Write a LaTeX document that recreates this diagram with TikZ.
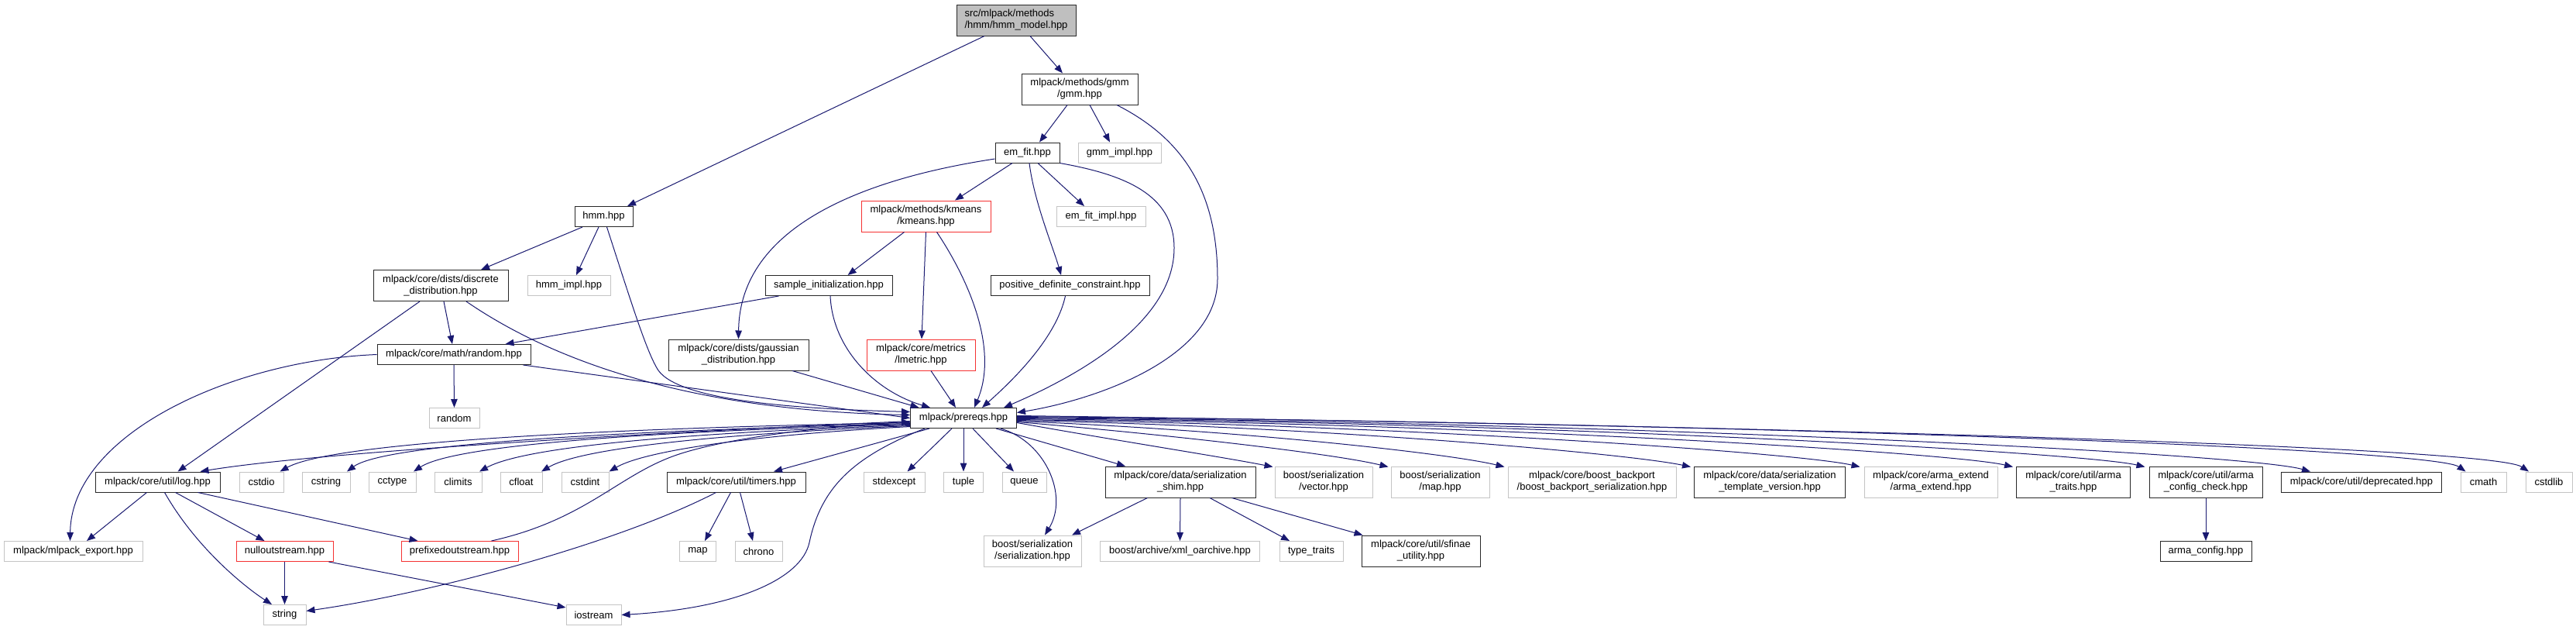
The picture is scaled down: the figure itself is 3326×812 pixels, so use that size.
\documentclass[tikz,border=0pt]{standalone}
\usepackage{fontspec}
\setmainfont{Liberation Sans}
\usetikzlibrary{calc,arrows.meta}
\definecolor{edgecol}{RGB}{25,25,112}
\definecolor{boxblack}{RGB}{40,40,40}
\definecolor{boxgray}{RGB}{196,196,196}
\definecolor{boxred}{RGB}{245,50,50}
\definecolor{rootfill}{RGB}{191,191,191}
\tikzset{
  box/.style={draw, line width=1pt, inner sep=0pt, align=center,
    font=\fontsize{13}{15}\selectfont, minimum height=26pt},
  blk/.style={box, draw=boxblack, fill=white},
  gry/.style={box, draw=boxgray, fill=white},
  redb/.style={box, draw=boxred, fill=white},
  rootb/.style={box, draw=boxblack, fill=rootfill, align=left},
  two/.style={minimum height=40pt},
  conn/.style={draw=edgecol, line width=1pt, -{Triangle[length=11pt,width=8.5pt]}},
}
\begin{document}
\begin{tikzpicture}[x=1pt,y=-1pt]
\fill[white] (0,0) rectangle (3326,812);
\useasboundingbox (0,0) rectangle (3326,812);
% nodes
\node[rootb,two,minimum width=154pt] (root) at (1312,26) {src/mlpack/methods\\/hmm/hmm\_model.hpp};
\node[blk,two,minimum width=150pt] (gmm) at (1394,115) {mlpack/methods/gmm\\/gmm.hpp};
\node[blk,minimum width=83pt] (emfit) at (1326.5,197) {em\_fit.hpp};
\node[gry,minimum width=107pt] (gmmimpl) at (1445.5,197) {gmm\_impl.hpp};
\node[blk,minimum width=75pt] (hmm) at (779.5,279.5) {hmm.hpp};
\node[redb,two,minimum width=167pt] (kmeans) at (1195.5,279) {mlpack/methods/kmeans\\/kmeans.hpp};
\node[gry,minimum width=115pt] (emfitimpl) at (1421.5,279.5) {em\_fit\_impl.hpp};
\node[blk,two,minimum width=174pt] (discrete) at (569,368.5) {mlpack/core/dists/discrete\\\_distribution.hpp};
\node[gry,minimum width=107pt] (hmmimpl) at (734.5,368.5) {hmm\_impl.hpp};
\node[blk,minimum width=164pt] (sample) at (1070,368.5) {sample\_initialization.hpp};
\node[blk,minimum width=205pt] (posdef) at (1381.5,368.5) {positive\_definite\_constraint.hpp};
\node[blk,minimum width=198pt] (random) at (586,457.5) {mlpack/core/math/random.hpp};
\node[blk,two,minimum width=181pt] (gauss) at (953.5,458) {mlpack/core/dists/gaussian\\\_distribution.hpp};
\node[redb,two,minimum width=140pt] (lmetric) at (1189,458) {mlpack/core/metrics\\/lmetric.hpp};
\node[gry,minimum width=65pt] (randomstd) at (586.5,539.5) {random};
\node[blk,minimum width=137pt] (prereqs) at (1244,539.5) {mlpack/prereqs.hpp};
% row 622
\node[blk,minimum width=161pt] (log) at (203.5,622) {mlpack/core/util/log.hpp};
\node[gry,minimum width=57pt] (cstdio) at (337.5,622) {cstdio};
\node[gry,minimum width=62pt] (cstring) at (421,622) {cstring};
\node[gry,minimum width=61pt] (cctype) at (506.5,622) {cctype};
\node[gry,minimum width=61pt] (climits) at (591.5,622) {climits};
\node[gry,minimum width=54pt] (cfloat) at (673,622) {cfloat};
\node[gry,minimum width=61pt] (cstdint) at (755.5,622) {cstdint};
\node[blk,minimum width=179pt] (timers) at (950.5,622) {mlpack/core/util/timers.hpp};
\node[gry,minimum width=79pt] (stdexcept) at (1154.5,622) {stdexcept};
\node[gry,minimum width=51pt] (tuple) at (1244,622) {tuple};
\node[gry,minimum width=57pt] (queue) at (1322.5,622) {queue};
\node[blk,two,minimum width=194pt] (shim) at (1524,622) {mlpack/core/data/serialization\\\_shim.hpp};
\node[gry,two,minimum width=126pt] (bvector) at (1709,622) {boost/serialization\\/vector.hpp};
\node[gry,two,minimum width=127pt] (bmap) at (1859.5,622) {boost/serialization\\/map.hpp};
\node[gry,two,minimum width=217pt] (backport) at (2055.5,622) {mlpack/core/boost\_backport\\/boost\_backport\_serialization.hpp};
\node[blk,two,minimum width=195pt] (tmplver) at (2285,622) {mlpack/core/data/serialization\\\_template\_version.hpp};
\node[gry,two,minimum width=172pt] (armaext) at (2493,622) {mlpack/core/arma\_extend\\/arma\_extend.hpp};
\node[blk,two,minimum width=147pt] (armatraits) at (2677,622) {mlpack/core/util/arma\\\_traits.hpp};
\node[blk,two,minimum width=146pt] (armacc) at (2848,622) {mlpack/core/util/arma\\\_config\_check.hpp};
\node[blk,minimum width=207pt] (deprecated) at (3049,622) {mlpack/core/util/deprecated.hpp};
\node[gry,minimum width=59pt] (cmath) at (3206.5,622) {cmath};
\node[gry,minimum width=60pt] (cstdlib) at (3291,622) {cstdlib};
% row 711
\node[gry,minimum width=179pt] (export) at (94.5,711.5) {mlpack/mlpack\_export.hpp};
\node[redb,minimum width=125pt] (nullout) at (367.5,711.5) {nulloutstream.hpp};
\node[redb,minimum width=151pt] (prefixed) at (593.5,711.5) {prefixedoutstream.hpp};
\node[gry,minimum width=47pt] (map) at (901,711.5) {map};
\node[gry,minimum width=61pt] (chrono) at (979.5,711.5) {chrono};
\node[gry,two,minimum width=126pt] (bser) at (1333,711) {boost/serialization\\/serialization.hpp};
\node[gry,minimum width=206pt] (xml) at (1523.5,711.5) {boost/archive/xml\_oarchive.hpp};
\node[gry,minimum width=82pt] (typetraits) at (1693,711.5) {type\_traits};
\node[blk,two,minimum width=153pt] (sfinae) at (1834.5,711) {mlpack/core/util/sfinae\\\_utility.hpp};
\node[blk,minimum width=118pt] (armaconfig) at (2848,711.5) {arma\_config.hpp};
% row 793
\node[gry,minimum width=55pt] (string) at (367.5,793.5) {string};
\node[gry,minimum width=71pt] (iostream) at (766.5,793.5) {iostream};
% edges
\draw[conn] ($(root.south)+(18,0)$) -- ($(gmm.north)+(-22,0)$);
\draw[conn] ($(root.south)+(-41,0)$) -- ($(hmm.north)+(30.5,0)$);
\draw[conn] ($(gmm.south)+(-16,0)$) -- ($(emfit.north)+(15.5,0)$);
\draw[conn] ($(gmm.south)+(13,0)$) -- ($(gmmimpl.north)+(-12.5,0)$);
\draw[conn] ($(gmm.south)+(48,0)$) .. controls (1530,180) and (1572,250) .. (1572,360) .. controls (1572,460) and (1420,515) .. ($(prereqs.east)+(0,-7)$);
\draw[conn] ($(emfit.south)+(-19.5,0)$) -- ($(kmeans.north)+(37.5,0)$);
\draw[conn] ($(emfit.south)+(13.5,0)$) -- ($(emfitimpl.north)+(-21.5,0)$);
\draw[conn] ($(emfit.south)+(2.5,0)$) .. controls (1335,260) and (1360,320) .. ($(posdef.north)+(-11.5,0)$);
\draw[conn] (emfit.south east) .. controls (1450,225) and (1516,250) .. (1516,320) .. controls (1516,420) and (1380,490) .. ($(prereqs.north)+(52,0)$);
\draw[conn] ($(emfit.west)+(0,8)$) .. controls (1120,230) and (955,290) .. (gauss.north);
\draw[conn] ($(hmm.south)+(-27.5,0)$) -- ($(discrete.north)+(52,0)$);
\draw[conn] ($(hmm.south)+(-6.5,0)$) -- ($(hmmimpl.north)+(9.5,0)$);
\draw[conn] ($(hmm.south)+(4,0)$) .. controls (815,390) and (835,455) .. (850,478) .. controls (880,520) and (1050,528) .. ($(prereqs.west)+(0,-8)$);
\draw[conn] ($(discrete.south)+(-27,0)$) -- ($(log.north)+(26,0)$);
\draw[conn] ($(discrete.south)+(4,0)$) -- ($(random.north)+(-2,0)$);
\draw[conn] ($(discrete.south)+(33,0)$) .. controls (720,470) and (900,530) .. ($(prereqs.west)+(0,-4)$);
\draw[conn] ($(sample.south)+(-64.5,0)$) -- ($(random.north)+(66.5,0)$);
\draw[conn] ($(sample.south)+(2,0)$) .. controls (1075,450) and (1130,505) .. ($(prereqs.north)+(-43,0)$);
\draw[conn] ($(gauss.south)+(69.5,0)$) -- ($(prereqs.north)+(-57.5,0)$);
\draw[conn] ($(kmeans.south)+(-28,0)$) -- ($(sample.north)+(24.6,0)$);
\draw[conn] (kmeans.south) -- ($(lmetric.north)+(1,0)$);
\draw[conn] ($(kmeans.south)+(14,0)$) .. controls (1250,360) and (1290,450) .. ($(prereqs.north)+(14,0)$);
\draw[conn] ($(lmetric.south)+(13,0)$) -- ($(prereqs.north)+(-10,0)$);
\draw[conn] ($(posdef.south)+(-6,0)$) .. controls (1365,430) and (1320,480) .. ($(prereqs.north)+(24,0)$);
\draw[conn] (random.south) -- (randomstd.north);
\draw[conn] ($(random.south)+(89.5,0)$) -- (prereqs.west);
\draw[conn] (random.west) .. controls (300,465) and (92,560) .. ($(export.north)+(-4,0)$);
\draw[conn] ($(log.south)+(-14,0)$) -- ($(export.north)+(17.5,0)$);
\draw[conn] ($(log.south)+(23,0)$) -- ($(nullout.north)+(-26,0)$);
\draw[conn] ($(log.south)+(52,0)$) -- ($(prefixed.north)+(-54,0)$);
\draw[conn] ($(log.south)+(9,0)$) .. controls (255,710) and (320,760) .. ($(string.north)+(-16.5,0)$);
\draw[conn] (nullout.south) -- (string.north);
\draw[conn] ($(nullout.south)+(57,0)$) -- ($(iostream.north west)+(0,4)$);
\draw[conn] ($(prefixed.north)+(41,0)$) .. controls (760,670) and (800,610) .. (880,585) .. controls (960,560) and (1100,548) .. ($(prereqs.west)+(0,5)$);
\draw[conn] ($(timers.south)+(-7,0)$) -- ($(map.north)+(9,0)$);
\draw[conn] ($(timers.south)+(5,0)$) -- ($(chrono.north)+(-7.5,0)$);
\draw[conn] ($(timers.south)+(-26,0)$) .. controls (800,700) and (560,765) .. ($(string.east)+(0,-5)$);
\draw[conn] ($(prereqs.south)+(-50,0)$) .. controls (1100,590) and (1060,630) .. (1045,700) .. controls (1035,747) and (950,785) .. (iostream.east);
\draw[conn] ($(prereqs.south)+(48,0)$) .. controls (1350,570) and (1380,640) .. ($(bser.north)+(16,0)$);
\draw[conn] ($(prereqs.south)+(-15,0)$) -- ($(stdexcept.north)+(17,0)$);
\draw[conn] (prereqs.south) -- (tuple.north);
\draw[conn] ($(prereqs.south)+(12,0)$) -- ($(queue.north)+(-13.5,0)$);
\draw[conn] ($(prereqs.south)+(42,0)$) -- ($(shim.north)+(-71,0)$);
\draw[conn] ($(prereqs.south)+(-44,0)$) -- ($(timers.north)+(48.5,0)$);
% left fan
\draw[conn] ($(prereqs.west)+(0,4)$) .. controls (800,560) and (400,585) .. ($(log.north)+(55,0)$);
\draw[conn] ($(prereqs.west)+(0,6)$) .. controls (800,552) and (430,570) .. ($(cstdio.north)+(24,0)$);
\draw[conn] ($(prereqs.west)+(0,7)$) .. controls (850,555) and (500,570) .. ($(cstring.north)+(27,0)$);
\draw[conn] ($(prereqs.west)+(0,8)$) .. controls (870,556) and (590,572) .. ($(cctype.north)+(27.5,0)$);
\draw[conn] ($(prereqs.west)+(0,9)$) .. controls (900,558) and (680,575) .. ($(climits.north)+(27.5,0)$);
\draw[conn] ($(prereqs.west)+(0,10)$) .. controls (930,560) and (750,578) .. ($(cfloat.north)+(26,0)$);
\draw[conn] ($(prereqs.west)+(0,11)$) .. controls (960,562) and (830,583) .. ($(cstdint.north)+(31,0)$);
% right fan
\draw[conn] ($(prereqs.east)+(0,6)$) .. controls (1450,570) and (1580,590) .. ($(bvector.north west)+(-2,1)$);
\draw[conn] ($(prereqs.east)+(0,5)$) .. controls (1500,560) and (1720,585) .. ($(bmap.north west)+(-3,1)$);
\draw[conn] ($(prereqs.east)+(0,4)$) .. controls (1600,555) and (1870,585) .. ($(backport.north west)+(-4,1)$);
\draw[conn] ($(prereqs.east)+(0,3)$) .. controls (1700,550) and (2100,585) .. ($(tmplver.north west)+(-4,1)$);
\draw[conn] ($(prereqs.east)+(0,2)$) .. controls (1800,548) and (2320,584) .. ($(armaext.north west)+(-5,1)$);
\draw[conn] ($(prereqs.east)+(0,1)$) .. controls (1900,546) and (2520,584) .. ($(armatraits.north west)+(-4,1)$);
\draw[conn] (prereqs.east) .. controls (2000,545) and (2690,584) .. ($(armacc.north west)+(-5,1)$);
\draw[conn] ($(prereqs.east)+(0,-1)$) .. controls (2100,545) and (2900,585) .. ($(deprecated.north)+(-66,0)$);
\draw[conn] ($(prereqs.east)+(0,-2)$) .. controls (2200,545) and (3140,578) .. ($(cmath.north)+(-23,0)$);
\draw[conn] ($(prereqs.east)+(0,-3)$) .. controls (2200,548) and (3215,575) .. ($(cstdlib.north)+(-26,0)$);
% shim
\draw[conn] ($(shim.south)+(-42.5,0)$) -- ($(bser.north)+(51,0)$);
\draw[conn] (shim.south) -- (xml.north);
\draw[conn] ($(shim.south)+(38,0)$) -- ($(typetraits.north)+(-28,0)$);
\draw[conn] ($(shim.south)+(66.5,0)$) -- ($(sfinae.north west)+(2,0)$);
\draw[conn] (armacc.south) -- (armaconfig.north);
\end{tikzpicture}
\end{document}
